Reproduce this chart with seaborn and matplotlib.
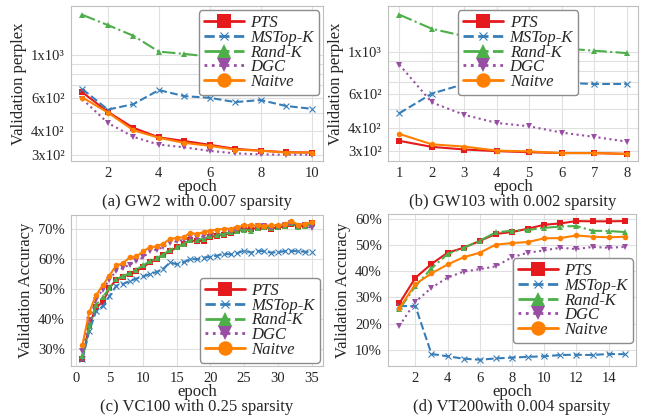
import matplotlib
matplotlib.use("Agg")
import matplotlib.pyplot as plt
import seaborn as sns
from matplotlib.ticker import FixedLocator, FixedFormatter, NullFormatter, LogLocator, PercentFormatter, MultipleLocator

methods = ["PTS", "MSTop-K", "Rand-K", "DGC", "Naitve"]
colors = ["#e41a1c", "#377eb8", "#4daf4a", "#984ea3", "#ff7f00"]
markers = ["s", "x", "^", "v", "o"]
styles = ["-", "--", "-.", ":", "-"]

# (a) GW2, perplexity
ep_a = list(range(1, 11))
gw2 = {
    "PTS": [638, 505, 417, 372, 356, 340, 324, 317, 311, 310],
    "MSTop-K": [663, 519, 554, 656, 610, 598, 568, 582, 542, 524],
    "Rand-K": [1618, 1431, 1259, 1041, 1013, 980, 955, 935, 915, 900],
    "DGC": [588, 442, 374, 341, 330, 316, 307, 303, 302, 302],
    "Naitve": [600, 501, 405, 370, 348, 336, 321, 317, 310, 310],
}

# (b) GW103, perplexity
ep_b = list(range(1, 9))
gw103 = {
    "PTS": [340, 316, 306, 300, 296, 293, 293, 290],
    "MSTop-K": [476, 605, 680, 690, 695, 690, 680, 680],
    "Rand-K": [1583, 1333, 1220, 1150, 1100, 1050, 1021, 991],
    "DGC": [861, 543, 467, 423, 406, 376, 357, 337],
    "Naitve": [370, 326, 317, 302, 299, 293, 293, 290],
}

# (c) VC100, accuracy (%)
ep_c = list(range(1, 36))
vc100 = {
    "PTS": [26.6, 37.5, 43.9, 45.5, 50.3, 53.1, 54.0, 55.1, 56.1, 57.3, 58.9, 60.1, 61.5, 62.6, 64.0,
            65.0, 66.3, 66.0, 66.2, 67.3, 67.9, 68.2, 68.8, 69.3, 70.2, 70.2, 70.4, 70.7, 70.2, 70.7,
            71.0, 71.8, 71.0, 71.3, 72.1],
    "MSTop-K": [26.5, 35.8, 42.5, 44.2, 47.5, 51.1, 51.7, 52.6, 53.5, 54.2, 55.0, 55.7, 56.8, 58.9, 58.3,
                59.0, 60.0, 60.0, 60.5, 60.8, 61.2, 61.8, 61.6, 62.0, 62.9, 62.2, 62.8, 62.6, 62.2, 62.3,
                62.7, 62.8, 62.6, 62.5, 62.4],
    "Rand-K": [27.4, 37.5, 44.7, 47.2, 50.3, 53.4, 54.2, 55.4, 56.5, 57.9, 59.3, 60.4, 61.5, 63.2, 64.0,
               65.0, 66.5, 66.5, 66.9, 67.7, 68.2, 68.4, 69.1, 69.6, 69.9, 69.6, 70.4, 70.7, 70.4, 70.7,
               71.2, 72.1, 70.7, 71.0, 71.8],
    "DGC": [29.1, 39.7, 46.4, 49.8, 53.1, 56.1, 57.0, 58.2, 59.3, 60.6, 62.6, 63.2, 64.0, 65.4, 66.0,
            66.5, 67.3, 67.1, 67.7, 68.4, 69.1, 69.6, 69.6, 70.2, 70.7, 70.7, 71.0, 71.0, 70.4, 70.7,
            71.3, 72.1, 71.0, 71.3, 70.4],
    "Naitve": [31.3, 42.2, 47.9, 51.2, 54.5, 57.9, 58.6, 60.6, 60.9, 62.6, 64.0, 64.3, 65.2, 66.8, 67.1,
               67.4, 68.8, 68.4, 69.1, 69.6, 69.9, 70.2, 70.2, 70.7, 71.3, 71.3, 71.3, 71.2, 71.3, 71.3,
               71.8, 72.7, 71.6, 71.8, 72.3],
}

# (d) VT200, accuracy (%)
ep_d = list(range(1, 16))
vt200 = {
    "PTS": [27.7, 37.5, 42.8, 47.1, 49.0, 51.6, 54.3, 55.0, 56.3, 57.8, 58.3, 59.2, 59.1, 59.1, 59.2],
    "MSTop-K": [26.7, 26.7, 8.4, 7.5, 6.6, 6.2, 6.7, 7.0, 7.3, 7.5, 8.0, 8.1, 8.0, 8.4, 8.3],
    "Rand-K": [25.4, 34.3, 41.1, 46.6, 49.0, 51.7, 54.9, 55.5, 55.8, 56.6, 57.1, 57.3, 55.5, 55.4, 55.0],
    "DGC": [19.1, 28.3, 33.7, 37.6, 39.9, 40.8, 41.9, 45.4, 47.1, 48.0, 49.0, 48.5, 49.3, 49.0, 49.3],
    "Naitve": [25.8, 35.1, 39.2, 42.6, 45.4, 47.1, 50.2, 50.8, 51.2, 52.6, 52.7, 53.7, 53.2, 53.0, 53.2],
}

sns.set_style("whitegrid", {"grid.color": ".88", "axes.edgecolor": ".75"})
plt.rcParams["font.family"] = ["Liberation Serif", "DejaVu Serif"]

fig = plt.figure(figsize=(6.46, 4.2), dpi=100)
W, H = 646.0, 420.0
def box(l, t, r, b):
    return [l / W, 1 - b / H, (r - l) / W, (b - t) / H]

ax_a = fig.add_axes(box(71, 6, 323, 161))
ax_b = fig.add_axes(box(388, 6, 638, 161))
ax_c = fig.add_axes(box(71, 215, 323, 366))
ax_d = fig.add_axes(box(388, 214, 636, 366))

def draw(ax, ep, data):
    for m, c, mk, ls in zip(methods, colors, markers, styles):
        sns.lineplot(x=ep, y=data[m], ax=ax, color=c, marker=mk, linestyle=ls,
                     linewidth=1.5, markersize=4, markeredgewidth=0.8 if mk == "x" else 0,
                     markeredgecolor=c, label=m)

for ax, ep, data in [(ax_a, ep_a, gw2), (ax_b, ep_b, gw103), (ax_c, ep_c, vc100), (ax_d, ep_d, vt200)]:
    draw(ax, ep, data)
    ax.tick_params(labelsize=10.5, pad=1)
    ax.set_xlabel("epoch", fontsize=12, labelpad=-1)
    for s in ax.spines.values():
        s.set_linewidth(0.8)

for ax, lim in [(ax_a, (280, 1800)), (ax_b, (266, 1760))]:
    ax.set_yscale("log")
    ax.set_ylim(*lim)
    ax.yaxis.set_major_locator(FixedLocator([300, 400, 600, 1000]))
    ax.yaxis.set_major_formatter(FixedFormatter(["3x10²", "4x10²", "6x10²", "1x10³"]))
    ax.yaxis.set_minor_locator(LogLocator(base=10, subs=range(2, 10)))
    ax.yaxis.set_minor_formatter(NullFormatter())
    ax.grid(which="minor", axis="y", color=".88", linewidth=0.8)
    ax.set_ylabel("Validation perplex", fontsize=12, labelpad=3)

ax_b.xaxis.set_major_locator(MultipleLocator(1))
ax_c.xaxis.set_major_locator(MultipleLocator(5))
ax_c.yaxis.set_major_locator(MultipleLocator(10))
ax_c.set_ylim(24.2, 74.8)
ax_d.xaxis.set_major_locator(MultipleLocator(2))
ax_d.yaxis.set_major_locator(MultipleLocator(10))
ax_d.set_ylim(3.8, 61.9)
for ax in (ax_c, ax_d):
    ax.yaxis.set_major_formatter(PercentFormatter(decimals=0))
    ax.set_ylabel("Validation Accuracy", fontsize=12, labelpad=3)

leg_kw = dict(prop={"style": "italic", "size": 12, "family": "Liberation Serif"},
              markerscale=2.6, handlelength=2.4, handletextpad=0.4, labelspacing=-0.08,
              borderpad=0.3, fancybox=True, framealpha=1, edgecolor=".55")
legs = [ax_a.legend(loc="upper right", borderaxespad=0.25, **leg_kw),
        ax_b.legend(loc="upper center", bbox_to_anchor=(0.52, 1.0), borderaxespad=0.25, **leg_kw),
        ax_c.legend(loc="lower right", borderaxespad=0.2, **leg_kw),
        ax_d.legend(loc="center right", bbox_to_anchor=(1.0, 0.43), borderaxespad=0.2, **leg_kw)]
for leg in legs:
    for h, mk in zip(leg.legend_handles, markers):
        h.set_linewidth(2.0)
        if mk == "x":
            h.set_markersize(6)

captions = [(197, 202, "(a) GW2 with 0.007 sparsity"),
            (513, 202, "(b) GW103 with 0.002 sparsity"),
            (197, 407, "(c) VC100 with 0.25 sparsity"),
            (512, 407, "(d) VT200with 0.004 sparsity")]
for x, y, t in captions:
    fig.text(x / W, 1 - y / H, t, ha="center", va="center", fontsize=12)

fig.savefig("out.png", dpi=100)
